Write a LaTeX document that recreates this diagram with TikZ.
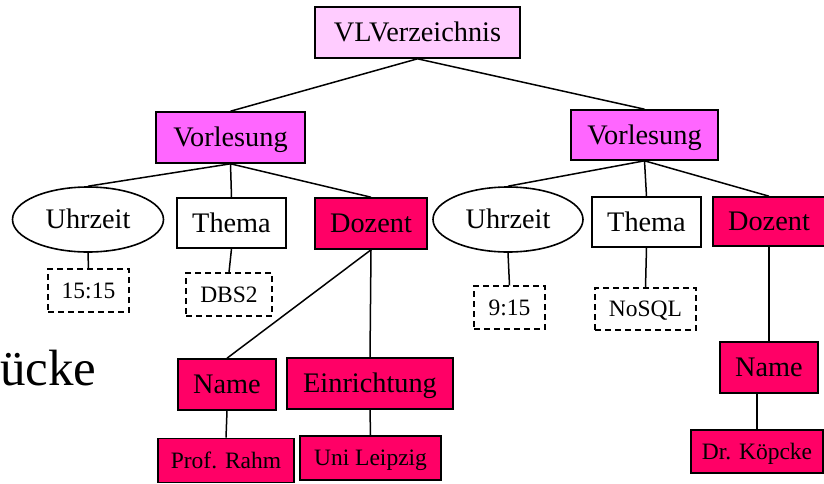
\documentclass[tikz,border=0pt]{standalone}
\usepackage{fontspec}
\setmainfont{Liberation Serif}
\usetikzlibrary{shapes.geometric}
\definecolor{lpink}{HTML}{FFCCFF}
\definecolor{mpink}{HTML}{FF66FF}
\definecolor{dpink}{HTML}{FF0066}
\begin{document}
\begin{tikzpicture}[x=1pt,y=-1pt,
  box/.style={draw=black, line width=1.6pt, inner sep=0pt, font=\fontsize{28.3}{31}\selectfont, text height=18.5pt, text depth=0pt},
  smallbox/.style={box, font=\fontsize{23.5}{27}\selectfont, text height=15.5pt, text depth=0pt},
  valbox/.style={smallbox, dash pattern=on 6pt off 4pt, line width=1.4pt},
  ell/.style={box, ellipse},
  conn/.style={line width=1.5pt}]
\useasboundingbox (0,0) rectangle (824,483);
% top
\node[box, fill=lpink, minimum width=205pt, minimum height=51pt] (vlv) at (417.5,32.5) {VLVerzeichnis};
\node[box, fill=mpink, minimum width=149pt, minimum height=51pt] (v1) at (230.5,137.5) {Vorlesung};
\node[box, fill=mpink, minimum width=147pt, minimum height=50pt] (v2) at (644.5,135) {Vorlesung};
% left subtree
\node[ell, minimum width=151pt, minimum height=65pt] (u1) at (88,219.5) {Uhrzeit};
\node[box, minimum width=109pt, minimum height=50pt] (t1) at (231.5,223) {Thema};
\node[box, fill=dpink, minimum width=112pt, minimum height=51pt] (d1) at (371,223.5) {Dozent};
\node[valbox, minimum width=81pt, minimum height=43pt] (c1) at (88.5,290.5) {15:15};
\node[valbox, minimum width=86pt, minimum height=43pt] (c2) at (229,294.5) {DBS2};
\node[box, fill=dpink, minimum width=98pt, minimum height=51pt] (n1) at (227,384.5) {Name};
\node[box, fill=dpink, minimum width=166pt, minimum height=51pt] (e1) at (370,383.5) {Einrichtung};
\node[smallbox, fill=dpink, minimum width=136pt, minimum height=44pt] (p1) at (226,460.5) {Prof. Rahm};
\node[smallbox, fill=dpink, minimum width=141pt, minimum height=44pt] (ul) at (370.5,458) {Uni Leipzig};
% right subtree
\node[ell, minimum width=150pt, minimum height=65pt] (u2) at (508,219.5) {Uhrzeit};
\node[box, minimum width=109pt, minimum height=50pt] (t2) at (646.5,222) {Thema};
\node[box, fill=dpink, minimum width=112pt, minimum height=49pt] (d2) at (769,221.5) {Dozent};
\node[valbox, minimum width=71pt, minimum height=43pt] (c3) at (509.5,307.5) {9:15};
\node[valbox, minimum width=101pt, minimum height=42pt] (c4) at (645.5,309) {NoSQL};
\node[box, fill=dpink, minimum width=98pt, minimum height=51pt] (n2) at (769,367.5) {Name};
\node[smallbox, fill=dpink, minimum width=132pt, minimum height=43pt] (dk) at (757,451.5) {Dr. Köpcke};
% partial word at the left edge
\node[anchor=base west, inner sep=0pt, font=\fontsize{51}{56}\selectfont] (frag) at (0,385) {ücke};
% connectors
\draw[conn] (vlv.south) -- (v1.north);
\draw[conn] (vlv.south) -- (v2.north);
\draw[conn] (v1.south) -- (u1.north);
\draw[conn] (v1.south) -- (t1.north);
\draw[conn] (v1.south) -- (d1.north);
\draw[conn] (u1.south) -- (c1.north);
\draw[conn] (t1.south) -- (c2.north);
\draw[conn] (d1.south) -- (n1.north);
\draw[conn] (d1.south) -- (e1.north);
\draw[conn] (n1.south) -- (p1.north);
\draw[conn] (e1.south) -- (ul.north);
\draw[conn] (v2.south) -- (u2.north);
\draw[conn] (v2.south) -- (t2.north);
\draw[conn] (v2.south) -- (d2.north);
\draw[conn] (u2.south) -- (c3.north);
\draw[conn] (t2.south) -- (c4.north);
\draw[conn] (d2.south) -- (n2.north);
\draw[conn] (dk.north |- n2.south) -- (dk.north);
\end{tikzpicture}
\end{document}
